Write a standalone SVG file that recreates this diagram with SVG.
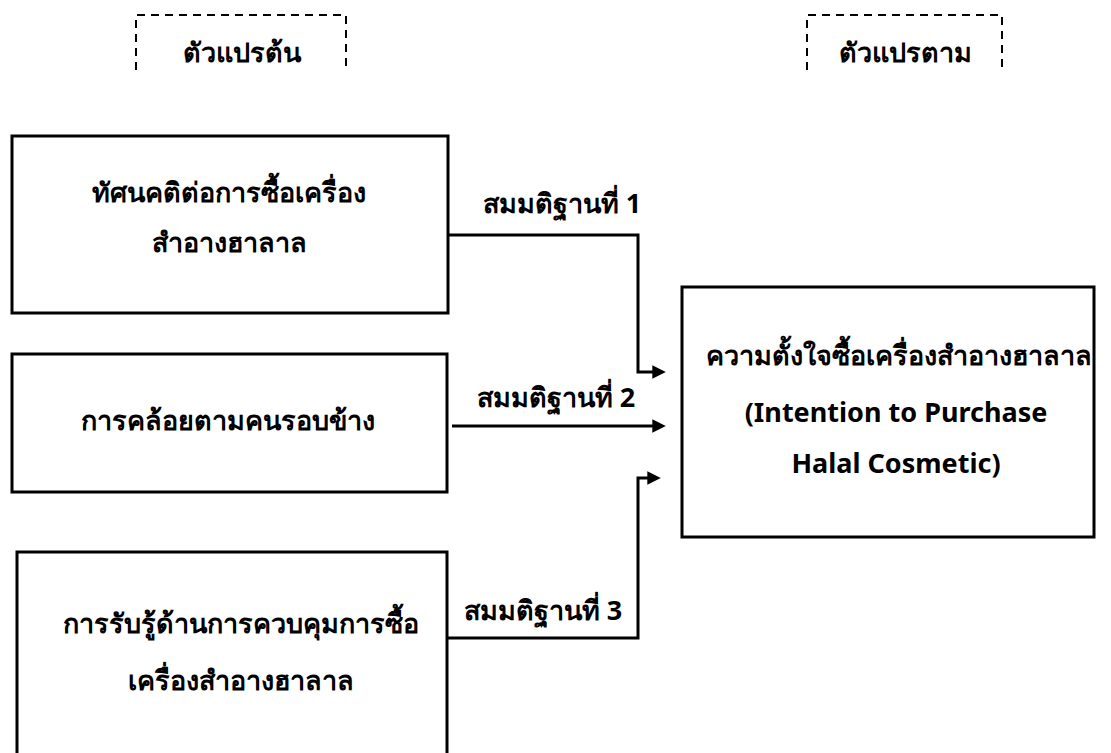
<svg xmlns="http://www.w3.org/2000/svg" width="1111" height="753" viewBox="0 0 1111 753">
<style>
.box{fill:#fff;stroke:#000;stroke-width:3}
.dash{fill:none;stroke:#000;stroke-width:2;stroke-dasharray:8 6}
.t{font-family:"Noto Sans","DejaVu Sans",sans-serif;font-weight:bold;font-size:27px;fill:#000;text-anchor:middle}
.c{fill:none;stroke:#000;stroke-width:3}
</style>
<defs>
<marker id="ah" viewBox="0 0 10 10" refX="2" refY="5" markerWidth="4.5" markerHeight="4.5" orient="auto" markerUnits="strokeWidth">
<path d="M0,0 L10,5 L0,10 Z" fill="#000"/>
</marker>
</defs>
<rect width="1111" height="753" fill="#fff"/>
<g id="label-independent">
<path class="dash" d="M136,70 V15 H346 V70"/>
<text class="t" x="242" y="62">ตัวแปรต้น</text>
</g>
<g id="label-dependent">
<path class="dash" d="M807,70 V15 H1002 V70"/>
<text class="t" x="905" y="62">ตัวแปรตาม</text>
</g>
<g id="node-attitude">
<rect class="box" x="12" y="136" width="436" height="177"/>
<text class="t" x="229" y="202">ทัศนคติต่อการซื้อเครื่อง</text>
<text class="t" x="229" y="252">สำอางฮาลาล</text>
</g>
<g id="node-norm">
<rect class="box" x="12" y="354" width="435" height="138"/>
<text class="t" x="228" y="430">การคล้อยตามคนรอบข้าง</text>
</g>
<g id="node-control">
<rect class="box" x="17" y="552" width="430" height="220"/>
<text class="t" x="241" y="633">การรับรู้ด้านการควบคุมการซื้อ</text>
<text class="t" x="241" y="690">เครื่องสำอางฮาลาล</text>
</g>
<g id="node-intention">
<rect class="box" x="682" y="287" width="412" height="250"/>
<text class="t" x="899" y="365">ความตั้งใจซื้อเครื่องสำอางฮาลาล</text>
<text class="t" x="896" y="422">(Intention to Purchase</text>
<text class="t" x="896" y="473">Halal Cosmetic)</text>
</g>
<g id="connectors">
<path class="c" d="M448,235 H638 V372 H655" marker-end="url(#ah)"/>
<path class="c" d="M452,426 H655" marker-end="url(#ah)"/>
<path class="c" d="M448,638 H638 V478 H650" marker-end="url(#ah)"/>
<text class="t" x="562" y="213">สมมติฐานที่ 1</text>
<text class="t" x="556" y="407">สมมติฐานที่ 2</text>
<text class="t" x="543" y="620">สมมติฐานที่ 3</text>
</g>
</svg>
